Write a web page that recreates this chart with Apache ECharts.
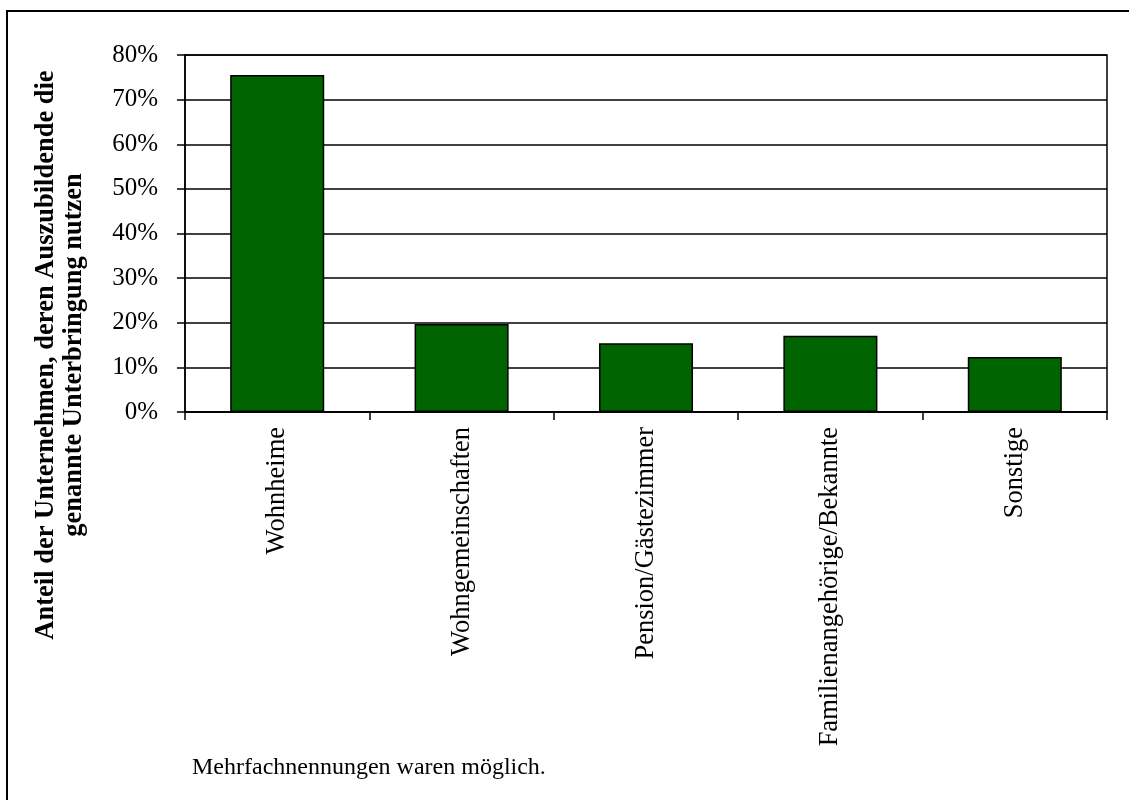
<!DOCTYPE html>
<html>
<head>
<meta charset="utf-8">
<script src="https://cdn.jsdelivr.net/npm/echarts@6/dist/echarts.min.js"></script>
<style>html,body{margin:0;padding:0;background:#fff;}#c{width:1129px;height:800px;}</style>
</head>
<body>
<div id="c"></div>
<script>
const categories = ["Wohnheime", "Wohngemeinschaften", "Pension/Gästezimmer", "Familienangehörige/Bekannte", "Sonstige"];
const values = [75.5, 19.7, 15.4, 17.1, 12.3];
const yAxisTitle = ["Anteil der Unternehmen, deren Auszubildende die", "genannte Unterbringung nutzen"];
const note = "Mehrfachnennungen waren möglich.";

const chart = echarts.init(document.getElementById('c'), null, {renderer: 'canvas'});
const serif = '"Liberation Serif", "Times New Roman", serif';
chart.setOption({
  animation: false,
  backgroundColor: '#fff',
  grid: {left: 185, right: 22, top: 55, bottom: 388, show: true, borderColor: '#000', borderWidth: 1.5, backgroundColor: 'transparent'},
  xAxis: {
    type: 'category',
    data: categories,
    boundaryGap: true,
    axisLine: {lineStyle: {color: '#000', width: 1.5}},
    axisTick: {show: true, alignWithLabel: false, length: 8, lineStyle: {color: '#000', width: 1.5}},
    axisLabel: {rotate: 90, margin: 15, fontFamily: serif, fontSize: 26.5, color: '#000', interval: 0}
  },
  yAxis: {
    type: 'value',
    min: 0, max: 80, interval: 10,
    axisLine: {show: true, lineStyle: {color: '#000', width: 1.5}},
    axisTick: {show: true, length: 8, lineStyle: {color: '#000', width: 1.5}},
    axisLabel: {formatter: '{value}%', margin: 27, fontFamily: serif, fontSize: 25, color: '#000'},
    splitLine: {show: true, lineStyle: {color: '#000', width: 1.5}}
  },
  series: [{
    type: 'bar',
    data: values,
    barCategoryGap: '49%',
    itemStyle: {color: '#006400', borderColor: '#000', borderWidth: 1.5}
  }],
  graphic: [
    {type: 'polyline', shape: {points: [[7, 800], [7, 11], [1129, 11]]}, style: {stroke: '#000', lineWidth: 2, fill: null}},
    {type: 'text', x: 46, y: 355, rotation: Math.PI / 2, style: {text: yAxisTitle[0], font: 'bold 26.5px ' + serif, fill: '#000', align: 'center', verticalAlign: 'middle'}},
    {type: 'text', x: 74, y: 355, rotation: Math.PI / 2, style: {text: yAxisTitle[1], font: 'bold 26.5px ' + serif, fill: '#000', align: 'center', verticalAlign: 'middle'}},
    {type: 'text', x: 192, y: 768, style: {text: note, font: '24px ' + serif, fill: '#000', align: 'left', verticalAlign: 'middle'}}
  ]
});
</script>
</body>
</html>
